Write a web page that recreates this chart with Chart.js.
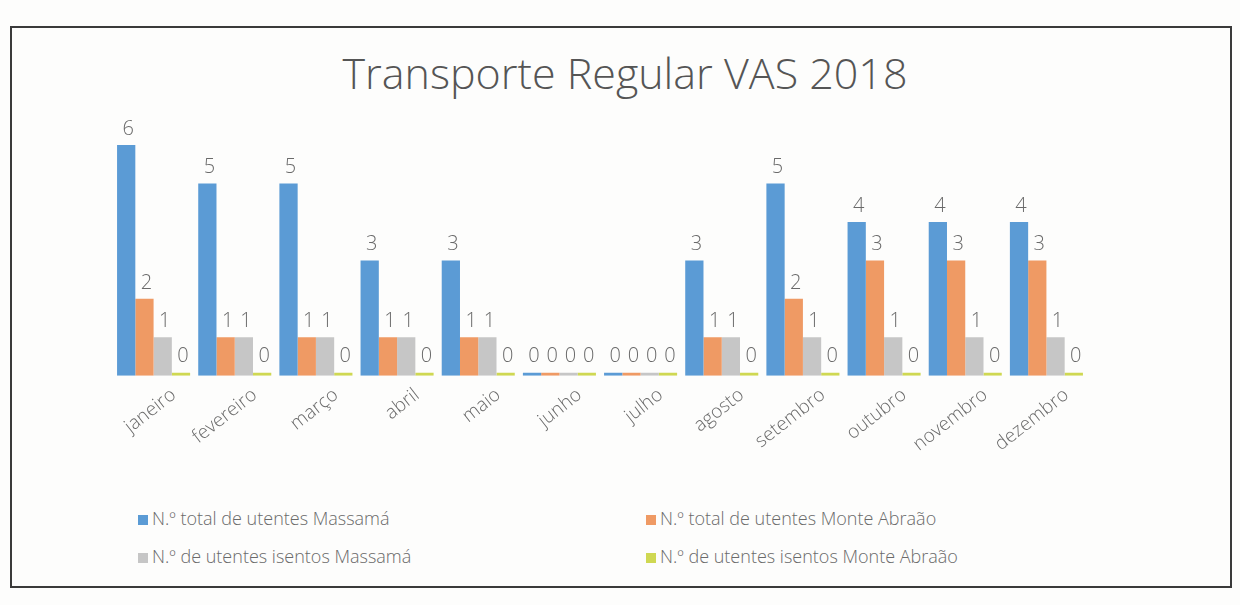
<!DOCTYPE html>
<html lang="pt">
<head>
  <meta charset="UTF-8">
  <title>Transporte Regular VAS 2018</title>
  <script src="https://cdn.jsdelivr.net/npm/chart.js"></script>
  <style>
    body {
      margin: 0;
      background: #fdfdfc;
      width: 1240px;
      height: 605px;
      overflow: hidden;
      position: relative;
      font-family: 'Open Sans', sans-serif;
    }
    .frame {
      position: absolute;
      left: 10px;
      top: 26px;
      width: 1222px;
      height: 562px;
      border: 2px solid #3a3a3a;
      box-sizing: border-box;
    }
    h1 {
      position: absolute;
      left: 0;
      top: 48px;
      width: 1250px;
      margin: 0;
      text-align: center;
      font-weight: 300;
      font-size: 43px;
      line-height: 50px;
      color: #555;
    }
    .chart-box {
      position: absolute;
      left: 0;
      top: 0;
      width: 1240px;
      height: 470px;
    }
    #legend {
      position: absolute;
      left: 138px;
      top: 506px;
      display: grid;
      grid-template-columns: 508px 500px;
      row-gap: 14px;
      font-family: 'Open Sans', sans-serif;
      font-weight: 300;
      font-size: 18px;
      color: #6a6a6a;
    }
    #legend span.box {
      display: inline-block;
      width: 10px;
      height: 10px;
      margin-right: 4px;
    }
  </style>
</head>
<body>
<div class="frame"></div>
<h1>Transporte Regular VAS 2018</h1>
<div class="chart-box">
  <canvas id="vasChart" width="1240" height="470"></canvas>
</div>
<div id="legend"></div>

<script>
  const months = ['janeiro', 'fevereiro', 'março', 'abril', 'maio', 'junho',
                  'julho', 'agosto', 'setembro', 'outubro', 'novembro', 'dezembro'];

  const totalMassama     = [6, 5, 5, 3, 3, 0, 0, 3, 5, 4, 4, 4];
  const totalMonteAbraao = [2, 1, 1, 1, 1, 0, 0, 1, 2, 3, 3, 3];
  const isentosMassama   = [1, 1, 1, 1, 1, 0, 0, 1, 1, 1, 1, 1];
  const isentosMonte     = [0, 0, 0, 0, 0, 0, 0, 0, 0, 0, 0, 0];

  const seriesNames = [
    'N.º total de utentes  Massamá',
    'N.º total de utentes  Monte Abraão',
    'N.º de utentes isentos Massamá',
    'N.º de utentes isentos Monte Abraão'
  ];
  const colors = ['#5b9bd5', '#ef9a64', '#c6c6c6', '#cfd852'];

  // draws the value over each bar (no datalabels plugin offline)
  const valueLabels = {
    id: 'valueLabels',
    afterDatasetsDraw(chart) {
      const ctx = chart.ctx;
      ctx.save();
      ctx.font = '300 20px "Open Sans", sans-serif';
      ctx.fillStyle = '#6a6a6a';
      ctx.textAlign = 'center';
      ctx.textBaseline = 'bottom';
      chart.data.datasets.forEach((ds, i) => {
        chart.getDatasetMeta(i).data.forEach((bar, j) => {
          ctx.fillText(ds.data[j], bar.x + 2, bar.y - 6);
        });
      });
      ctx.restore();
    }
  };

  const datasets = [totalMassama, totalMonteAbraao, isentosMassama, isentosMonte].map((d, i) => ({
    label: seriesNames[i],
    data: d,
    backgroundColor: colors[i],
    minBarLength: 3
  }));

  new Chart(document.getElementById('vasChart'), {
    type: 'bar',
    data: { labels: months, datasets: datasets },
    options: {
      responsive: false,
      animation: false,
      categoryPercentage: 0.9,
      barPercentage: 1.0,
      layout: { padding: { left: 113, right: 153, top: 145, bottom: 14 } },
      scales: {
        x: {
          grid: { display: false },
          border: { display: false },
          ticks: {
            color: '#6a6a6a',
            font: { family: 'Open Sans', size: 19, weight: '300' },
            minRotation: 38,
            maxRotation: 38,
            padding: 0,
            labelOffset: 20
          }
        },
        y: { display: false, min: 0, max: 6 }
      },
      plugins: {
        legend: { display: false },
        tooltip: { enabled: false },
        title: { display: false }
      }
    },
    plugins: [valueLabels]
  });

  const legend = document.getElementById('legend');
  seriesNames.forEach((name, i) => {
    const item = document.createElement('div');
    item.innerHTML = '<span class="box" style="background:' + colors[i] + '"></span>' + name;
    legend.appendChild(item);
  });
</script>
</body>
</html>
